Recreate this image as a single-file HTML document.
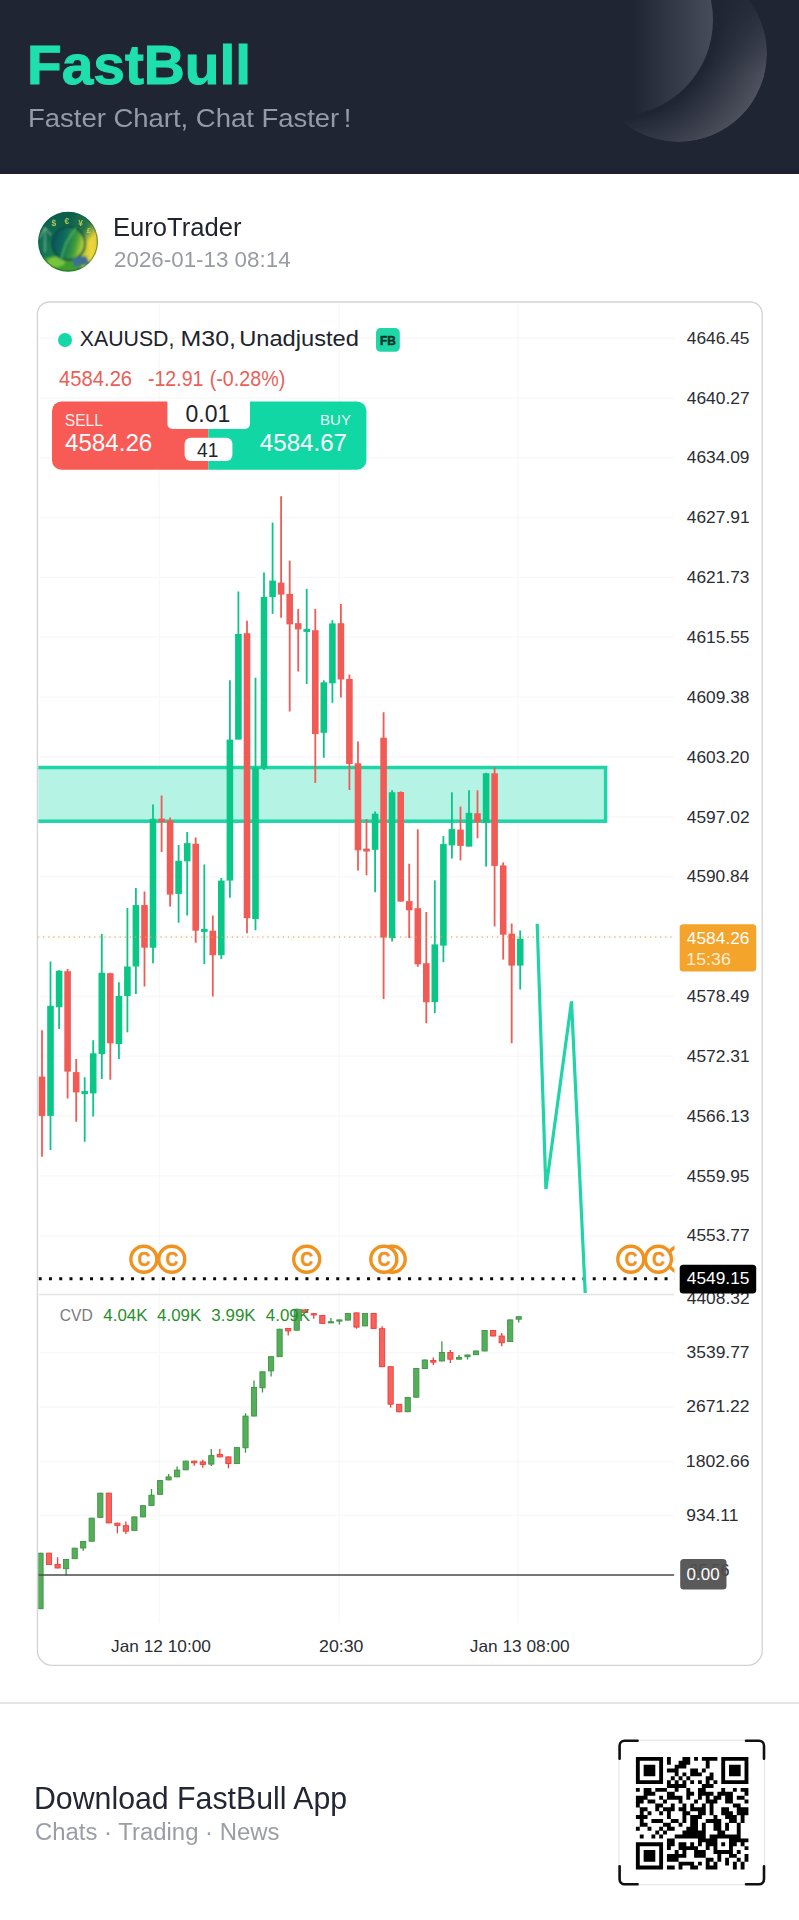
<!DOCTYPE html>
<html lang="en"><head><meta charset="utf-8"><title>FastBull - EuroTrader XAUUSD M30</title>
<style>
html,body{margin:0;padding:0;background:#fff}
body{width:799px;height:1920px;position:relative;overflow:hidden;font-family:"Liberation Sans",sans-serif}
.t{position:absolute;white-space:nowrap;line-height:1;transform-origin:0 50%;display:block}
.hdr{position:absolute;left:0;top:0;width:799px;height:174px;background:linear-gradient(to bottom,#202534 0,#202534 167px,#1c202e 172px,#1c202e 174px);overflow:hidden}
.c1,.c2{position:absolute;border-radius:50%}
.c2{left:590px;top:-35px;width:177px;height:177px;background:radial-gradient(circle at 27px 55px,rgba(255,255,255,0) 98px,rgba(255,255,255,.215) 160px);-webkit-mask-image:linear-gradient(to bottom,rgba(0,0,0,.2) 38px,#000 110px);mask-image:linear-gradient(to bottom,rgba(0,0,0,.2) 38px,#000 110px)}
.c1{left:521px;top:-76px;width:192px;height:192px;background:linear-gradient(90deg,#202534 58%,#474c5a 100%)}
.sep{position:absolute;left:0;top:1701.8px;width:799px;height:2px;background:#e6e6e6}
svg{position:absolute;left:0;top:0}
svg text{font-family:"Liberation Sans",sans-serif}
</style></head><body>

<div class="hdr"><div class="c2"></div><div class="c1"></div>
<span class="t " style="left:26.60px;top:37.11px;font-size:56.10px;color:#1fe0ac;font-weight:700;-webkit-text-stroke:1px #1fe0ac;transform:scaleX(1.0126)">FastBull</span>
<span class="t " style="left:27.75px;top:106.09px;font-size:25.29px;color:#969aa7;transform:scaleX(1.0859)">Faster Chart, Chat Faster !</span>
</div>
<span class="t " style="left:113.20px;top:213.98px;font-size:26.60px;color:#20242e;transform:scaleX(0.9621)">EuroTrader</span>
<span class="t " style="left:113.87px;top:249.03px;font-size:22.53px;color:#989ba2;transform:scaleX(0.9933)">2026-01-13 08:14</span>
<div class="sep"></div>
<span class="t " style="left:34.02px;top:1782.66px;font-size:30.52px;color:#222733;transform:scaleX(0.9923)">Download FastBull App</span>
<span class="t " style="left:34.79px;top:1821.26px;font-size:23.62px;color:#9a9da4;transform:scaleX(1.0127)">Chats · Trading · News</span>
<svg width="799" height="1920" viewBox="0 0 799 1920">
<defs><clipPath id="plot"><rect x="38.3" y="303" width="636.2" height="992"/></clipPath><clipPath id="cvdp"><rect x="38.3" y="1295" width="636.2" height="330"/></clipPath><clipPath id="card"><rect x="38.3" y="302.5" width="724.1" height="1363" rx="14"/></clipPath></defs>
<path d="M49.4 302H750.25a12 12 0 0 1 12 12V1650.4a15 15 0 0 1 -15 15H52.4a15 15 0 0 1 -15 -15V314a12 12 0 0 1 12 -12Z" fill="#fff" stroke="#d3d3d3" stroke-width="1.3"/>
<path d="M39 338.0H674M39 397.9H674M39 457.7H674M39 517.5H674M39 577.4H674M39 637.2H674M39 697.1H674M39 757.0H674M39 816.8H674M39 876.6H674M39 936.5H674M39 996.4H674M39 1056.2H674M39 1116.1H674M39 1175.9H674M39 1235.8H674M39 1352.6H674M39 1407.1H674M39 1461.5H674M39 1515.3H674M159.3 303.5V1623M339.2 303.5V1623M518.0 303.5V1623" stroke="#f8f8f9" stroke-width="1.3" fill="none"/>
<path d="M39 1294.5H674" stroke="#e4e4e6" stroke-width="1.4"/>
<g clip-path="url(#plot)">
<rect x="20" y="767.5" width="585.6" height="53.7" fill="#b5f3e4" stroke="#1fd4a7" stroke-width="3.5"/>
<path d="M42.0 1030.3V1156.7" stroke="#f15b56" stroke-width="1.8"/><rect x="38.7" y="1076.6" width="6.6" height="39.3" fill="#f15b56"/>
<path d="M50.5 961.5V1149.9" stroke="#0ac687" stroke-width="1.8"/><rect x="47.2" y="1005.8" width="6.6" height="110.1" fill="#0ac687"/>
<path d="M59.1 970.2V1029.0" stroke="#0ac687" stroke-width="1.8"/><rect x="55.8" y="970.7" width="6.6" height="36.6" fill="#0ac687"/>
<path d="M67.6 969.0V1098.4" stroke="#f15b56" stroke-width="1.8"/><rect x="64.3" y="971.2" width="6.6" height="100.4" fill="#f15b56"/>
<path d="M76.2 1059.1V1121.7" stroke="#f15b56" stroke-width="1.8"/><rect x="72.9" y="1072.1" width="6.6" height="20.3" fill="#f15b56"/>
<path d="M84.7 1077.3V1141.7" stroke="#0ac687" stroke-width="1.8"/><rect x="81.4" y="1091.1" width="6.6" height="3.0" fill="#0ac687"/>
<path d="M93.2 1040.3V1116.6" stroke="#0ac687" stroke-width="1.8"/><rect x="89.9" y="1053.3" width="6.6" height="40.1" fill="#0ac687"/>
<path d="M101.8 933.9V1079.1" stroke="#0ac687" stroke-width="1.8"/><rect x="98.5" y="972.7" width="6.6" height="81.4" fill="#0ac687"/>
<path d="M110.3 972.7V1079.8" stroke="#f15b56" stroke-width="1.8"/><rect x="107.0" y="973.2" width="6.6" height="70.1" fill="#f15b56"/>
<path d="M118.9 982.2V1059.1" stroke="#0ac687" stroke-width="1.8"/><rect x="115.6" y="996.0" width="6.6" height="48.1" fill="#0ac687"/>
<path d="M127.4 908.1V1032.3" stroke="#0ac687" stroke-width="1.8"/><rect x="124.1" y="966.5" width="6.6" height="29.5" fill="#0ac687"/>
<path d="M135.9 888.1V994.0" stroke="#0ac687" stroke-width="1.8"/><rect x="132.6" y="905.1" width="6.6" height="61.4" fill="#0ac687"/>
<path d="M144.5 891.4V986.5" stroke="#f15b56" stroke-width="1.8"/><rect x="141.2" y="905.1" width="6.6" height="42.6" fill="#f15b56"/>
<path d="M153.0 804.5V963.2" stroke="#0ac687" stroke-width="1.8"/><rect x="149.7" y="818.8" width="6.6" height="128.9" fill="#0ac687"/>
<path d="M161.6 795.4V852.1" stroke="#f15b56" stroke-width="1.8"/><rect x="158.3" y="818.6" width="6.6" height="3.6" fill="#f15b56"/>
<path d="M170.1 817.5V906.4" stroke="#f15b56" stroke-width="1.8"/><rect x="166.8" y="820.5" width="6.6" height="74.1" fill="#f15b56"/>
<path d="M178.6 845.1V922.7" stroke="#0ac687" stroke-width="1.8"/><rect x="175.3" y="860.8" width="6.6" height="33.1" fill="#0ac687"/>
<path d="M187.2 832.0V915.6" stroke="#0ac687" stroke-width="1.8"/><rect x="183.9" y="843.1" width="6.6" height="18.2" fill="#0ac687"/>
<path d="M195.7 837.5V942.7" stroke="#f15b56" stroke-width="1.8"/><rect x="192.4" y="843.8" width="6.6" height="86.9" fill="#f15b56"/>
<path d="M204.3 864.6V964.0" stroke="#0ac687" stroke-width="1.8"/><rect x="201.0" y="928.9" width="6.6" height="3.0" fill="#0ac687"/>
<path d="M212.8 915.6V996.5" stroke="#f15b56" stroke-width="1.8"/><rect x="209.5" y="930.7" width="6.6" height="24.5" fill="#f15b56"/>
<path d="M221.3 878.1V959.0" stroke="#0ac687" stroke-width="1.8"/><rect x="218.0" y="880.6" width="6.6" height="74.6" fill="#0ac687"/>
<path d="M229.9 680.3V897.7" stroke="#0ac687" stroke-width="1.8"/><rect x="226.6" y="739.6" width="6.6" height="141.0" fill="#0ac687"/>
<path d="M238.4 591.4V739.6" stroke="#0ac687" stroke-width="1.8"/><rect x="235.1" y="634.0" width="6.6" height="105.6" fill="#0ac687"/>
<path d="M247.0 620.7V933.2" stroke="#f15b56" stroke-width="1.8"/><rect x="243.7" y="633.2" width="6.6" height="285.0" fill="#f15b56"/>
<path d="M255.5 677.7V930.2" stroke="#0ac687" stroke-width="1.8"/><rect x="252.2" y="767.4" width="6.6" height="151.6" fill="#0ac687"/>
<path d="M264.0 572.6V770.0" stroke="#0ac687" stroke-width="1.8"/><rect x="260.7" y="596.9" width="6.6" height="171.0" fill="#0ac687"/>
<path d="M272.6 522.6V613.9" stroke="#0ac687" stroke-width="1.8"/><rect x="269.3" y="580.6" width="6.6" height="16.5" fill="#0ac687"/>
<path d="M281.1 496.3V617.7" stroke="#f15b56" stroke-width="1.8"/><rect x="277.8" y="582.6" width="6.6" height="12.0" fill="#f15b56"/>
<path d="M289.7 560.6V711.5" stroke="#f15b56" stroke-width="1.8"/><rect x="286.4" y="593.9" width="6.6" height="30.5" fill="#f15b56"/>
<path d="M298.2 608.9V671.5" stroke="#f15b56" stroke-width="1.8"/><rect x="294.9" y="623.2" width="6.6" height="6.2" fill="#f15b56"/>
<path d="M306.7 588.9V684.0" stroke="#0ac687" stroke-width="1.8"/><rect x="303.4" y="628.9" width="6.6" height="3.0" fill="#0ac687"/>
<path d="M315.3 608.9V782.9" stroke="#f15b56" stroke-width="1.8"/><rect x="312.0" y="630.2" width="6.6" height="103.9" fill="#f15b56"/>
<path d="M323.8 680.3V757.8" stroke="#0ac687" stroke-width="1.8"/><rect x="320.5" y="682.3" width="6.6" height="50.5" fill="#0ac687"/>
<path d="M332.4 620.2V702.8" stroke="#0ac687" stroke-width="1.8"/><rect x="329.1" y="623.4" width="6.6" height="59.9" fill="#0ac687"/>
<path d="M340.9 603.9V697.5" stroke="#f15b56" stroke-width="1.8"/><rect x="337.6" y="623.2" width="6.6" height="56.3" fill="#f15b56"/>
<path d="M349.4 674.5V790.0" stroke="#f15b56" stroke-width="1.8"/><rect x="346.1" y="679.0" width="6.6" height="85.0" fill="#f15b56"/>
<path d="M358.0 741.5V870.5" stroke="#f15b56" stroke-width="1.8"/><rect x="354.7" y="763.3" width="6.6" height="87.0" fill="#f15b56"/>
<path d="M366.5 819.0V875.3" stroke="#f15b56" stroke-width="1.8"/><rect x="363.2" y="848.6" width="6.6" height="2.9" fill="#f15b56"/>
<path d="M375.1 811.5V892.3" stroke="#0ac687" stroke-width="1.8"/><rect x="371.8" y="813.7" width="6.6" height="36.1" fill="#0ac687"/>
<path d="M383.6 712.2V999.0" stroke="#f15b56" stroke-width="1.8"/><rect x="380.3" y="737.7" width="6.6" height="199.9" fill="#f15b56"/>
<path d="M392.1 790.2V941.6" stroke="#0ac687" stroke-width="1.8"/><rect x="388.8" y="792.2" width="6.6" height="145.9" fill="#0ac687"/>
<path d="M400.7 791.4V901.6" stroke="#f15b56" stroke-width="1.8"/><rect x="397.4" y="792.0" width="6.6" height="109.6" fill="#f15b56"/>
<path d="M409.2 863.7V938.0" stroke="#f15b56" stroke-width="1.8"/><rect x="405.9" y="901.1" width="6.6" height="9.2" fill="#f15b56"/>
<path d="M417.8 829.3V966.8" stroke="#f15b56" stroke-width="1.8"/><rect x="414.5" y="908.2" width="6.6" height="56.1" fill="#f15b56"/>
<path d="M426.3 912.0V1023.2" stroke="#f15b56" stroke-width="1.8"/><rect x="423.0" y="963.2" width="6.6" height="39.0" fill="#f15b56"/>
<path d="M434.8 880.4V1013.1" stroke="#0ac687" stroke-width="1.8"/><rect x="431.5" y="944.4" width="6.6" height="57.7" fill="#0ac687"/>
<path d="M443.4 836.1V962.1" stroke="#0ac687" stroke-width="1.8"/><rect x="440.1" y="844.1" width="6.6" height="101.5" fill="#0ac687"/>
<path d="M451.9 792.3V858.4" stroke="#0ac687" stroke-width="1.8"/><rect x="448.6" y="829.1" width="6.6" height="16.3" fill="#0ac687"/>
<path d="M460.5 806.6V860.4" stroke="#f15b56" stroke-width="1.8"/><rect x="457.2" y="829.6" width="6.6" height="16.3" fill="#f15b56"/>
<path d="M469.0 790.3V846.6" stroke="#0ac687" stroke-width="1.8"/><rect x="465.7" y="812.8" width="6.6" height="33.8" fill="#0ac687"/>
<path d="M477.5 790.3V838.3" stroke="#f15b56" stroke-width="1.8"/><rect x="474.2" y="813.3" width="6.6" height="9.0" fill="#f15b56"/>
<path d="M486.1 772.8V866.6" stroke="#0ac687" stroke-width="1.8"/><rect x="482.8" y="773.3" width="6.6" height="49.5" fill="#0ac687"/>
<path d="M494.6 767.3V926.5" stroke="#f15b56" stroke-width="1.8"/><rect x="491.3" y="773.3" width="6.6" height="92.6" fill="#f15b56"/>
<path d="M503.2 862.4V959.6" stroke="#f15b56" stroke-width="1.8"/><rect x="499.9" y="865.4" width="6.6" height="69.3" fill="#f15b56"/>
<path d="M511.7 923.6V1043.2" stroke="#f15b56" stroke-width="1.8"/><rect x="508.4" y="933.7" width="6.6" height="31.9" fill="#f15b56"/>
<path d="M520.2 930.5V989.6" stroke="#0ac687" stroke-width="1.8"/><rect x="516.9" y="938.7" width="6.6" height="26.9" fill="#0ac687"/>
<path d="M38 937.1H675" stroke="#eda341" stroke-opacity=".92" stroke-width="1.25" stroke-dasharray="1.2 3.9"/>
<path d="M38.7 1278.8H675" stroke="#0a0a0a" stroke-width="3" stroke-dasharray="3 7.26"/>
<path d="M537.2 923.8L545.9 1189.1L571.5 1001.4L585.2 1293" stroke="#1fd4a7" stroke-width="3.2" fill="none" stroke-linejoin="miter"/>
<circle cx="143.85" cy="1259.2" r="13" fill="#fff" stroke="#ef9220" stroke-width="3.4"/><text x="137.75" y="1266.2" font-size="19.5" font-weight="700" fill="#ef9220" stroke="#ef9220" stroke-width=".5" textLength="12.6" lengthAdjust="spacingAndGlyphs">C</text>
<circle cx="171.75" cy="1259.2" r="13" fill="#fff" stroke="#ef9220" stroke-width="3.4"/><text x="165.65" y="1266.2" font-size="19.5" font-weight="700" fill="#ef9220" stroke="#ef9220" stroke-width=".5" textLength="12.6" lengthAdjust="spacingAndGlyphs">C</text>
<circle cx="306.7" cy="1259.2" r="13" fill="#fff" stroke="#ef9220" stroke-width="3.4"/><text x="300.60" y="1266.2" font-size="19.5" font-weight="700" fill="#ef9220" stroke="#ef9220" stroke-width=".5" textLength="12.6" lengthAdjust="spacingAndGlyphs">C</text>
<circle cx="392.2" cy="1259.2" r="13" fill="#fff" stroke="#ef9220" stroke-width="3.4"/><text x="386.10" y="1266.2" font-size="19.5" font-weight="700" fill="#ef9220" stroke="#ef9220" stroke-width=".5" textLength="12.6" lengthAdjust="spacingAndGlyphs">C</text>
<circle cx="383.8" cy="1259.2" r="13" fill="#fff" stroke="#ef9220" stroke-width="3.4"/><text x="377.70" y="1266.2" font-size="19.5" font-weight="700" fill="#ef9220" stroke="#ef9220" stroke-width=".5" textLength="12.6" lengthAdjust="spacingAndGlyphs">C</text>
<circle cx="630.8" cy="1259.2" r="13" fill="#fff" stroke="#ef9220" stroke-width="3.4"/><text x="624.70" y="1266.2" font-size="19.5" font-weight="700" fill="#ef9220" stroke="#ef9220" stroke-width=".5" textLength="12.6" lengthAdjust="spacingAndGlyphs">C</text>
<circle cx="680.4" cy="1259.2" r="13" fill="#fff" stroke="#ef9220" stroke-width="3.4"/><text x="674.30" y="1266.2" font-size="19.5" font-weight="700" fill="#ef9220" stroke="#ef9220" stroke-width=".5" textLength="12.6" lengthAdjust="spacingAndGlyphs">C</text>
<circle cx="658.4" cy="1259.2" r="13" fill="#fff" stroke="#ef9220" stroke-width="3.4"/><text x="652.30" y="1266.2" font-size="19.5" font-weight="700" fill="#ef9220" stroke="#ef9220" stroke-width=".5" textLength="12.6" lengthAdjust="spacingAndGlyphs">C</text>
</g>
<g clip-path="url(#cvdp)">
<path d="M40.5 1552.8V1609.1" stroke="#3f9444" stroke-width="1.3"/><rect x="37.9" y="1553.2" width="5.2" height="55.5" fill="#55ae5a" stroke="#3f9444" stroke-width=".9"/>
<path d="M49.0 1552.8V1564.8" stroke="#ee3e39" stroke-width="1.3"/><rect x="46.4" y="1553.2" width="5.2" height="11.2" fill="#f6635e" stroke="#ee3e39" stroke-width=".9"/>
<path d="M57.6 1557.3V1568.3" stroke="#ee3e39" stroke-width="1.3"/><rect x="55.0" y="1564.5" width="5.2" height="3.5" fill="#f6635e" stroke="#ee3e39" stroke-width=".9"/>
<path d="M66.1 1559.1V1575.4" stroke="#3f9444" stroke-width="1.3"/><rect x="63.5" y="1559.5" width="5.2" height="9.2" fill="#55ae5a" stroke="#3f9444" stroke-width=".9"/>
<path d="M74.7 1547.8V1559.1" stroke="#3f9444" stroke-width="1.3"/><rect x="72.1" y="1548.2" width="5.2" height="10.5" fill="#55ae5a" stroke="#3f9444" stroke-width=".9"/>
<path d="M83.2 1541.1V1550.8" stroke="#3f9444" stroke-width="1.3"/><rect x="80.6" y="1541.5" width="5.2" height="6.5" fill="#55ae5a" stroke="#3f9444" stroke-width=".9"/>
<path d="M91.7 1517.8V1541.6" stroke="#3f9444" stroke-width="1.3"/><rect x="89.1" y="1518.2" width="5.2" height="23.0" fill="#55ae5a" stroke="#3f9444" stroke-width=".9"/>
<path d="M100.3 1492.8V1517.8" stroke="#3f9444" stroke-width="1.3"/><rect x="97.7" y="1493.2" width="5.2" height="24.2" fill="#55ae5a" stroke="#3f9444" stroke-width=".9"/>
<path d="M108.8 1492.8V1523.3" stroke="#ee3e39" stroke-width="1.3"/><rect x="106.2" y="1493.2" width="5.2" height="29.7" fill="#f6635e" stroke="#ee3e39" stroke-width=".9"/>
<path d="M117.4 1522.8V1533.3" stroke="#ee3e39" stroke-width="1.3"/><rect x="114.8" y="1523.2" width="5.2" height="2.2" fill="#f6635e" stroke="#ee3e39" stroke-width=".9"/>
<path d="M125.9 1521.5V1534.1" stroke="#ee3e39" stroke-width="1.3"/><rect x="123.3" y="1525.7" width="5.2" height="5.5" fill="#f6635e" stroke="#ee3e39" stroke-width=".9"/>
<path d="M134.4 1516.5V1530.8" stroke="#3f9444" stroke-width="1.3"/><rect x="131.8" y="1516.9" width="5.2" height="13.5" fill="#55ae5a" stroke="#3f9444" stroke-width=".9"/>
<path d="M143.0 1505.3V1517.3" stroke="#3f9444" stroke-width="1.3"/><rect x="140.4" y="1505.7" width="5.2" height="11.2" fill="#55ae5a" stroke="#3f9444" stroke-width=".9"/>
<path d="M151.5 1489.0V1505.8" stroke="#3f9444" stroke-width="1.3"/><rect x="148.9" y="1495.2" width="5.2" height="10.2" fill="#55ae5a" stroke="#3f9444" stroke-width=".9"/>
<path d="M160.1 1480.2V1494.8" stroke="#3f9444" stroke-width="1.3"/><rect x="157.5" y="1480.6" width="5.2" height="13.7" fill="#55ae5a" stroke="#3f9444" stroke-width=".9"/>
<path d="M168.6 1474.0V1480.2" stroke="#3f9444" stroke-width="1.3"/><rect x="166.0" y="1476.9" width="5.2" height="3.0" fill="#55ae5a" stroke="#3f9444" stroke-width=".9"/>
<path d="M177.1 1466.5V1477.2" stroke="#3f9444" stroke-width="1.3"/><rect x="174.5" y="1470.1" width="5.2" height="6.7" fill="#55ae5a" stroke="#3f9444" stroke-width=".9"/>
<path d="M185.7 1460.7V1470.2" stroke="#3f9444" stroke-width="1.3"/><rect x="183.1" y="1461.1" width="5.2" height="8.7" fill="#55ae5a" stroke="#3f9444" stroke-width=".9"/>
<path d="M194.2 1460.7V1465.7" stroke="#ee3e39" stroke-width="1.3"/><rect x="191.6" y="1461.1" width="5.2" height="1.7" fill="#f6635e" stroke="#ee3e39" stroke-width=".9"/>
<path d="M202.8 1459.7V1467.7" stroke="#ee3e39" stroke-width="1.3"/><rect x="200.2" y="1461.9" width="5.2" height="2.5" fill="#f6635e" stroke="#ee3e39" stroke-width=".9"/>
<path d="M211.3 1448.9V1466.0" stroke="#3f9444" stroke-width="1.3"/><rect x="208.7" y="1455.6" width="5.2" height="8.5" fill="#55ae5a" stroke="#3f9444" stroke-width=".9"/>
<path d="M219.8 1448.9V1457.2" stroke="#ee3e39" stroke-width="1.3"/><rect x="217.2" y="1454.4" width="5.2" height="2.5" fill="#f6635e" stroke="#ee3e39" stroke-width=".9"/>
<path d="M228.4 1456.5V1468.2" stroke="#ee3e39" stroke-width="1.3"/><rect x="225.8" y="1456.9" width="5.2" height="6.7" fill="#f6635e" stroke="#ee3e39" stroke-width=".9"/>
<path d="M236.9 1447.2V1464.0" stroke="#3f9444" stroke-width="1.3"/><rect x="234.3" y="1447.6" width="5.2" height="16.0" fill="#55ae5a" stroke="#3f9444" stroke-width=".9"/>
<path d="M245.5 1413.2V1452.7" stroke="#3f9444" stroke-width="1.3"/><rect x="242.9" y="1416.1" width="5.2" height="31.7" fill="#55ae5a" stroke="#3f9444" stroke-width=".9"/>
<path d="M254.0 1380.6V1416.4" stroke="#3f9444" stroke-width="1.3"/><rect x="251.4" y="1387.5" width="5.2" height="28.5" fill="#55ae5a" stroke="#3f9444" stroke-width=".9"/>
<path d="M262.5 1371.4V1392.6" stroke="#3f9444" stroke-width="1.3"/><rect x="259.9" y="1371.8" width="5.2" height="16.0" fill="#55ae5a" stroke="#3f9444" stroke-width=".9"/>
<path d="M271.1 1356.3V1376.4" stroke="#3f9444" stroke-width="1.3"/><rect x="268.5" y="1356.7" width="5.2" height="14.2" fill="#55ae5a" stroke="#3f9444" stroke-width=".9"/>
<path d="M279.6 1328.8V1357.1" stroke="#3f9444" stroke-width="1.3"/><rect x="277.0" y="1329.2" width="5.2" height="27.5" fill="#55ae5a" stroke="#3f9444" stroke-width=".9"/>
<path d="M288.2 1328.0V1335.6" stroke="#ee3e39" stroke-width="1.3"/><rect x="285.6" y="1328.4" width="5.2" height="2.5" fill="#f6635e" stroke="#ee3e39" stroke-width=".9"/>
<path d="M296.7 1308.8V1330.6" stroke="#3f9444" stroke-width="1.3"/><rect x="294.1" y="1309.2" width="5.2" height="21.0" fill="#55ae5a" stroke="#3f9444" stroke-width=".9"/>
<path d="M305.2 1309.0V1313.0" stroke="#ee3e39" stroke-width="1.3"/><rect x="302.6" y="1309.9" width="5.2" height="2.7" fill="#f6635e" stroke="#ee3e39" stroke-width=".9"/>
<path d="M313.8 1313.3V1318.8" stroke="#ee3e39" stroke-width="1.3"/><rect x="311.2" y="1313.7" width="5.2" height="1.2" fill="#f6635e" stroke="#ee3e39" stroke-width=".9"/>
<path d="M322.3 1315.0V1323.8" stroke="#ee3e39" stroke-width="1.3"/><rect x="319.7" y="1315.4" width="5.2" height="8.0" fill="#f6635e" stroke="#ee3e39" stroke-width=".9"/>
<path d="M330.9 1318.0V1323.0" stroke="#3f9444" stroke-width="1.3"/><rect x="328.3" y="1321.7" width="5.2" height="1.2" fill="#55ae5a" stroke="#3f9444" stroke-width=".9"/>
<path d="M339.4 1319.5V1324.5" stroke="#3f9444" stroke-width="1.3"/><rect x="336.8" y="1319.9" width="5.2" height="1.2" fill="#55ae5a" stroke="#3f9444" stroke-width=".9"/>
<path d="M347.9 1313.0V1320.5" stroke="#3f9444" stroke-width="1.3"/><rect x="345.3" y="1313.4" width="5.2" height="6.7" fill="#55ae5a" stroke="#3f9444" stroke-width=".9"/>
<path d="M356.5 1312.5V1328.8" stroke="#ee3e39" stroke-width="1.3"/><rect x="353.9" y="1312.9" width="5.2" height="14.2" fill="#f6635e" stroke="#ee3e39" stroke-width=".9"/>
<path d="M365.0 1313.0V1326.3" stroke="#3f9444" stroke-width="1.3"/><rect x="362.4" y="1313.4" width="5.2" height="12.5" fill="#55ae5a" stroke="#3f9444" stroke-width=".9"/>
<path d="M373.6 1313.0V1328.8" stroke="#ee3e39" stroke-width="1.3"/><rect x="371.0" y="1313.4" width="5.2" height="15.0" fill="#f6635e" stroke="#ee3e39" stroke-width=".9"/>
<path d="M382.1 1326.3V1367.1" stroke="#ee3e39" stroke-width="1.3"/><rect x="379.5" y="1328.7" width="5.2" height="38.0" fill="#f6635e" stroke="#ee3e39" stroke-width=".9"/>
<path d="M390.6 1366.3V1407.6" stroke="#ee3e39" stroke-width="1.3"/><rect x="388.0" y="1366.7" width="5.2" height="37.5" fill="#f6635e" stroke="#ee3e39" stroke-width=".9"/>
<path d="M399.2 1403.9V1412.2" stroke="#ee3e39" stroke-width="1.3"/><rect x="396.6" y="1404.3" width="5.2" height="7.5" fill="#f6635e" stroke="#ee3e39" stroke-width=".9"/>
<path d="M407.7 1397.1V1412.2" stroke="#3f9444" stroke-width="1.3"/><rect x="405.1" y="1397.5" width="5.2" height="14.2" fill="#55ae5a" stroke="#3f9444" stroke-width=".9"/>
<path d="M416.3 1368.1V1397.6" stroke="#3f9444" stroke-width="1.3"/><rect x="413.7" y="1368.5" width="5.2" height="28.7" fill="#55ae5a" stroke="#3f9444" stroke-width=".9"/>
<path d="M424.8 1359.6V1368.8" stroke="#3f9444" stroke-width="1.3"/><rect x="422.2" y="1360.0" width="5.2" height="8.5" fill="#55ae5a" stroke="#3f9444" stroke-width=".9"/>
<path d="M433.3 1357.6V1365.1" stroke="#ee3e39" stroke-width="1.3"/><rect x="430.7" y="1360.5" width="5.2" height="1.7" fill="#f6635e" stroke="#ee3e39" stroke-width=".9"/>
<path d="M441.9 1341.3V1361.3" stroke="#3f9444" stroke-width="1.3"/><rect x="439.3" y="1352.5" width="5.2" height="8.5" fill="#55ae5a" stroke="#3f9444" stroke-width=".9"/>
<path d="M450.4 1350.1V1363.1" stroke="#ee3e39" stroke-width="1.3"/><rect x="447.8" y="1352.5" width="5.2" height="6.7" fill="#f6635e" stroke="#ee3e39" stroke-width=".9"/>
<path d="M459.0 1355.1V1359.6" stroke="#3f9444" stroke-width="1.3"/><rect x="456.4" y="1357.5" width="5.2" height="1.7" fill="#55ae5a" stroke="#3f9444" stroke-width=".9"/>
<path d="M467.5 1354.6V1359.6" stroke="#3f9444" stroke-width="1.3"/><rect x="464.9" y="1355.0" width="5.2" height="1.7" fill="#55ae5a" stroke="#3f9444" stroke-width=".9"/>
<path d="M476.0 1350.6V1355.1" stroke="#3f9444" stroke-width="1.3"/><rect x="473.4" y="1351.0" width="5.2" height="3.7" fill="#55ae5a" stroke="#3f9444" stroke-width=".9"/>
<path d="M484.6 1330.1V1351.3" stroke="#3f9444" stroke-width="1.3"/><rect x="482.0" y="1330.5" width="5.2" height="20.5" fill="#55ae5a" stroke="#3f9444" stroke-width=".9"/>
<path d="M493.1 1330.1V1336.3" stroke="#ee3e39" stroke-width="1.3"/><rect x="490.5" y="1330.5" width="5.2" height="5.5" fill="#f6635e" stroke="#ee3e39" stroke-width=".9"/>
<path d="M501.7 1333.1V1346.3" stroke="#ee3e39" stroke-width="1.3"/><rect x="499.1" y="1336.0" width="5.2" height="6.7" fill="#f6635e" stroke="#ee3e39" stroke-width=".9"/>
<path d="M510.2 1319.5V1342.1" stroke="#3f9444" stroke-width="1.3"/><rect x="507.6" y="1319.9" width="5.2" height="21.7" fill="#55ae5a" stroke="#3f9444" stroke-width=".9"/>
<path d="M518.7 1316.3V1322.5" stroke="#3f9444" stroke-width="1.3"/><rect x="516.1" y="1316.7" width="5.2" height="2.5" fill="#55ae5a" stroke="#3f9444" stroke-width=".9"/>
<path d="M38.5 1575H674.3" stroke="#4a4a4a" stroke-width="1.5"/>
</g>
<text x="686.80" y="343.70" font-size="17.01" fill="#2b2d33" textLength="62.63" lengthAdjust="spacingAndGlyphs">4646.45</text>
<text x="686.80" y="403.55" font-size="17.01" fill="#2b2d33" textLength="62.77" lengthAdjust="spacingAndGlyphs">4640.27</text>
<text x="686.80" y="463.40" font-size="17.01" fill="#2b2d33" textLength="62.72" lengthAdjust="spacingAndGlyphs">4634.09</text>
<text x="686.80" y="523.25" font-size="17.01" fill="#2b2d33" textLength="62.75" lengthAdjust="spacingAndGlyphs">4627.91</text>
<text x="686.80" y="583.10" font-size="17.01" fill="#2b2d33" textLength="62.66" lengthAdjust="spacingAndGlyphs">4621.73</text>
<text x="686.80" y="642.95" font-size="17.01" fill="#2b2d33" textLength="62.63" lengthAdjust="spacingAndGlyphs">4615.55</text>
<text x="686.80" y="702.80" font-size="17.01" fill="#2b2d33" textLength="62.65" lengthAdjust="spacingAndGlyphs">4609.38</text>
<text x="686.80" y="762.65" font-size="17.01" fill="#2b2d33" textLength="62.57" lengthAdjust="spacingAndGlyphs">4603.20</text>
<text x="686.80" y="822.50" font-size="17.01" fill="#2b2d33" textLength="62.77" lengthAdjust="spacingAndGlyphs">4597.02</text>
<text x="686.80" y="882.35" font-size="17.01" fill="#2b2d33" textLength="62.40" lengthAdjust="spacingAndGlyphs">4590.84</text>
<text x="686.80" y="1002.05" font-size="17.01" fill="#2b2d33" textLength="62.72" lengthAdjust="spacingAndGlyphs">4578.49</text>
<text x="686.80" y="1061.90" font-size="17.01" fill="#2b2d33" textLength="62.75" lengthAdjust="spacingAndGlyphs">4572.31</text>
<text x="686.80" y="1121.75" font-size="17.01" fill="#2b2d33" textLength="62.66" lengthAdjust="spacingAndGlyphs">4566.13</text>
<text x="686.80" y="1181.60" font-size="17.01" fill="#2b2d33" textLength="62.63" lengthAdjust="spacingAndGlyphs">4559.95</text>
<text x="686.80" y="1241.45" font-size="17.01" fill="#2b2d33" textLength="62.77" lengthAdjust="spacingAndGlyphs">4553.77</text>
<text x="686.80" y="1304.20" font-size="17.01" fill="#2b2d33" textLength="62.77" lengthAdjust="spacingAndGlyphs">4408.32</text>
<text x="686.54" y="1358.00" font-size="17.01" fill="#2b2d33" textLength="63.04" lengthAdjust="spacingAndGlyphs">3539.77</text>
<text x="686.32" y="1412.30" font-size="17.01" fill="#2b2d33" textLength="63.26" lengthAdjust="spacingAndGlyphs">2671.22</text>
<text x="685.86" y="1467.10" font-size="17.01" fill="#2b2d33" textLength="63.61" lengthAdjust="spacingAndGlyphs">1802.66</text>
<text x="686.38" y="1521.20" font-size="17.01" fill="#2b2d33" textLength="52.07" lengthAdjust="spacingAndGlyphs">934.11</text>
<text x="689.18" y="1576.00" font-size="17.01" fill="#2b2d33" textLength="40.33" lengthAdjust="spacingAndGlyphs">65.56</text>
<rect x="679.7" y="924.3" width="76.5" height="47.1" rx="3.5" fill="#f4a42a"/>
<text x="686.80" y="944.10" font-size="17.01" fill="#fff" textLength="62.66" lengthAdjust="spacingAndGlyphs">4584.26</text>
<text x="686.35" y="964.80" font-size="17.01" fill="#fff" fill-opacity="0.82" textLength="44.43" lengthAdjust="spacingAndGlyphs">15:36</text>
<rect x="679.7" y="1264.8" width="76.5" height="28.7" rx="3.5" fill="#000"/>
<text x="686.80" y="1284.40" font-size="17.01" fill="#fff" textLength="62.63" lengthAdjust="spacingAndGlyphs">4549.15</text>
<rect x="680.2" y="1559" width="46.3" height="30.6" rx="3.5" fill="#4d4d4d" fill-opacity=".93"/>
<text x="686.54" y="1579.70" font-size="17.01" fill="#fff" textLength="33.13" lengthAdjust="spacingAndGlyphs">0.00</text>
<defs><clipPath id="avc"><circle cx="68.1" cy="241.7" r="30"/></clipPath><linearGradient id="avb" x1="0" y1="0" x2="1" y2="0"><stop offset="0" stop-color="#0f6e58"/><stop offset=".5" stop-color="#1c8650"/><stop offset=".7" stop-color="#a9c032"/><stop offset=".86" stop-color="#f0d83a"/><stop offset="1" stop-color="#d9c236"/></linearGradient><linearGradient id="avg" x1="0" y1="0" x2="1" y2="0.25"><stop offset="0" stop-color="#0b4a63"/><stop offset=".45" stop-color="#10705a"/><stop offset=".8" stop-color="#3f9e38"/><stop offset="1" stop-color="#a8c83a"/></linearGradient><radialGradient id="avt" cx=".45" cy="0" r=".62"><stop offset="0" stop-color="#0a5a4c"/><stop offset=".7" stop-color="#0d6650" stop-opacity=".85"/><stop offset="1" stop-color="#0d6650" stop-opacity="0"/></radialGradient><filter id="avf" x="-10%" y="-10%" width="120%" height="120%"><feGaussianBlur stdDeviation="1.3"/></filter></defs>
<g clip-path="url(#avc)"><g filter="url(#avf)"><rect x="36" y="210" width="64" height="64" fill="url(#avb)"/><rect x="36" y="210" width="64" height="64" fill="url(#avt)"/><ellipse cx="58" cy="270" rx="24" ry="14" fill="#3f9d2e"/><ellipse cx="56" cy="262" rx="9" ry="5" fill="#79c43c"/><circle cx="68.7" cy="243.6" r="17.5" fill="#0b4d40"/><circle cx="68.7" cy="243.6" r="15.5" fill="url(#avg)"/><path d="M60 262L66 243L76 228" stroke="#5fbf6a" stroke-width="1.4" fill="none" opacity=".8"/><path d="M72 258L86 256L90 264L74 267Z" fill="#3d6f8f"/><path d="M45 228V252M45 228L39 238M45 228L51 235" stroke="#9fd8b0" stroke-width="1" fill="none" opacity=".8"/></g><circle cx="68.1" cy="241.7" r="29.3" fill="none" stroke="#0b5a3e" stroke-width="1.4" opacity=".45"/><g font-size="8.5" font-weight="700" fill="#d3e05a" text-anchor="middle" opacity=".8"><text x="53.8" y="226.2">$</text><text x="66.9" y="224.4">€</text><text x="80.6" y="225.6">¥</text><text x="88.8" y="232.5" font-size="7.5">£</text></g></g>
<circle cx="65" cy="340" r="7" fill="#14d8a8"/>
<text x="79.82" y="346.40" font-size="22.38" fill="#20232b" textLength="94.59" lengthAdjust="spacingAndGlyphs">XAUUSD,</text>
<text x="180.56" y="346.40" font-size="22.38" fill="#20232b" textLength="55.38" lengthAdjust="spacingAndGlyphs">M30,</text>
<text x="239.17" y="346.40" font-size="22.38" fill="#20232b" textLength="119.75" lengthAdjust="spacingAndGlyphs">Unadjusted</text>
<rect x="376" y="328.1" width="23.8" height="23.6" rx="4.5" fill="#1fd6a6"/>
<text x="380.11" y="345.00" font-size="12.21" fill="#0a2f28" font-weight="700" textLength="15.83" lengthAdjust="spacingAndGlyphs" stroke="#0a2f28" stroke-width=".45">FB</text>
<text x="59.04" y="385.50" font-size="21.66" fill="#ea5f59" textLength="73.10" lengthAdjust="spacingAndGlyphs">4584.26</text>
<text x="147.88" y="385.50" font-size="21.66" fill="#ea5f59" textLength="55.58" lengthAdjust="spacingAndGlyphs">-12.91</text>
<text x="209.78" y="385.50" font-size="21.66" fill="#ea5f59" textLength="75.44" lengthAdjust="spacingAndGlyphs">(-0.28%)</text>
<clipPath id="w"><rect x="52" y="401.5" width="314.4" height="68.3" rx="9.5"/></clipPath>
<g clip-path="url(#w)"><rect x="52" y="401" width="156.3" height="70" fill="#f85a55"/><rect x="208.3" y="401" width="159" height="70" fill="#10d7a4"/></g>
<path d="M167.4 400.8H250V424a5 5 0 0 1 -5 5H172.4a5 5 0 0 1 -5 -5Z" fill="#fff"/>
<rect x="184.6" y="437.7" width="47.8" height="23.2" rx="6" fill="#fff"/>
<text x="64.79" y="425.50" font-size="15.99" fill="#fff" fill-opacity="0.92" textLength="38.23" lengthAdjust="spacingAndGlyphs">SELL</text>
<text x="64.95" y="451.00" font-size="23.62" fill="#fff" textLength="87.37" lengthAdjust="spacingAndGlyphs">4584.26</text>
<text x="320.06" y="425.30" font-size="15.12" fill="#fff" fill-opacity="0.92" textLength="30.97" lengthAdjust="spacingAndGlyphs">BUY</text>
<text x="259.85" y="451.25" font-size="23.98" fill="#fff" textLength="87.17" lengthAdjust="spacingAndGlyphs">4584.67</text>
<text x="185.60" y="422.00" font-size="23.98" fill="#20232b" textLength="44.72" lengthAdjust="spacingAndGlyphs">0.01</text>
<text x="197.06" y="456.60" font-size="20.35" fill="#20232b" textLength="21.38" lengthAdjust="spacingAndGlyphs">41</text>
<text x="59.71" y="1321.00" font-size="16.35" fill="#7a7a7a" textLength="33.04" lengthAdjust="spacingAndGlyphs">CVD</text>
<text x="103.36" y="1321.00" font-size="16.35" fill="#288f2c" textLength="44.08" lengthAdjust="spacingAndGlyphs">4.04K</text>
<text x="157.11" y="1321.00" font-size="16.35" fill="#288f2c" textLength="44.08" lengthAdjust="spacingAndGlyphs">4.09K</text>
<text x="211.35" y="1321.00" font-size="16.35" fill="#288f2c" textLength="44.34" lengthAdjust="spacingAndGlyphs">3.99K</text>
<text x="265.86" y="1321.00" font-size="16.35" fill="#288f2c" textLength="44.08" lengthAdjust="spacingAndGlyphs">4.09K</text>
<text x="111.13" y="1652.30" font-size="16.28" fill="#2b2d33" textLength="99.74" lengthAdjust="spacingAndGlyphs">Jan 12 10:00</text>
<text x="319.11" y="1652.30" font-size="16.28" fill="#2b2d33" textLength="44.28" lengthAdjust="spacingAndGlyphs">20:30</text>
<text x="469.83" y="1652.30" font-size="16.28" fill="#2b2d33" textLength="99.84" lengthAdjust="spacingAndGlyphs">Jan 13 08:00</text>
<rect x="619" y="1740.2" width="145.6" height="144.6" rx="5" fill="#fff" stroke="#e3e3e3" stroke-width="1"/>
<path d="M619.6 1758.8V1745.8a5 5 0 0 1 5 -5H637.6M746.0 1740.8H759.0a5 5 0 0 1 5 5V1758.8M764.0 1866.2V1879.2a5 5 0 0 1 -5 5H746.0M637.6 1884.2H624.6a5 5 0 0 1 -5 -5V1866.2" stroke="#111" stroke-width="2.6" fill="none" stroke-linecap="round"/>
<path d="M635.90 1756.90h27.16v3.93h-27.16zM666.94 1756.90h3.88v3.93h-3.88zM682.46 1756.90h7.76v3.93h-7.76zM694.10 1756.90h3.88v3.93h-3.88zM701.86 1756.90h15.52v3.93h-15.52zM721.26 1756.90h27.16v3.93h-27.16zM635.90 1760.78h3.88v3.93h-3.88zM659.18 1760.78h3.88v3.93h-3.88zM666.94 1760.78h3.88v3.93h-3.88zM678.58 1760.78h11.64v3.93h-11.64zM705.74 1760.78h3.88v3.93h-3.88zM721.26 1760.78h3.88v3.93h-3.88zM744.54 1760.78h3.88v3.93h-3.88zM635.90 1764.66h3.88v3.93h-3.88zM643.66 1764.66h11.64v3.93h-11.64zM659.18 1764.66h3.88v3.93h-3.88zM674.70 1764.66h11.64v3.93h-11.64zM705.74 1764.66h3.88v3.93h-3.88zM721.26 1764.66h3.88v3.93h-3.88zM729.02 1764.66h11.64v3.93h-11.64zM744.54 1764.66h3.88v3.93h-3.88zM635.90 1768.54h3.88v3.93h-3.88zM643.66 1768.54h11.64v3.93h-11.64zM659.18 1768.54h3.88v3.93h-3.88zM666.94 1768.54h11.64v3.93h-11.64zM690.22 1768.54h7.76v3.93h-7.76zM701.86 1768.54h3.88v3.93h-3.88zM721.26 1768.54h3.88v3.93h-3.88zM729.02 1768.54h11.64v3.93h-11.64zM744.54 1768.54h3.88v3.93h-3.88zM635.90 1772.42h3.88v3.93h-3.88zM643.66 1772.42h11.64v3.93h-11.64zM659.18 1772.42h3.88v3.93h-3.88zM674.70 1772.42h3.88v3.93h-3.88zM682.46 1772.42h3.88v3.93h-3.88zM690.22 1772.42h11.64v3.93h-11.64zM709.62 1772.42h3.88v3.93h-3.88zM721.26 1772.42h3.88v3.93h-3.88zM729.02 1772.42h11.64v3.93h-11.64zM744.54 1772.42h3.88v3.93h-3.88zM635.90 1776.30h3.88v3.93h-3.88zM659.18 1776.30h3.88v3.93h-3.88zM670.82 1776.30h3.88v3.93h-3.88zM678.58 1776.30h3.88v3.93h-3.88zM686.34 1776.30h3.88v3.93h-3.88zM705.74 1776.30h7.76v3.93h-7.76zM721.26 1776.30h3.88v3.93h-3.88zM744.54 1776.30h3.88v3.93h-3.88zM635.90 1780.18h27.16v3.93h-27.16zM666.94 1780.18h3.88v3.93h-3.88zM674.70 1780.18h3.88v3.93h-3.88zM682.46 1780.18h3.88v3.93h-3.88zM690.22 1780.18h3.88v3.93h-3.88zM697.98 1780.18h3.88v3.93h-3.88zM705.74 1780.18h3.88v3.93h-3.88zM713.50 1780.18h3.88v3.93h-3.88zM721.26 1780.18h27.16v3.93h-27.16zM666.94 1784.06h19.40v3.93h-19.40zM701.86 1784.06h11.64v3.93h-11.64zM635.90 1787.94h3.88v3.93h-3.88zM643.66 1787.94h7.76v3.93h-7.76zM655.30 1787.94h11.64v3.93h-11.64zM674.70 1787.94h3.88v3.93h-3.88zM686.34 1787.94h3.88v3.93h-3.88zM697.98 1787.94h7.76v3.93h-7.76zM721.26 1787.94h3.88v3.93h-3.88zM732.90 1787.94h3.88v3.93h-3.88zM740.66 1787.94h7.76v3.93h-7.76zM643.66 1791.82h11.64v3.93h-11.64zM666.94 1791.82h7.76v3.93h-7.76zM686.34 1791.82h7.76v3.93h-7.76zM697.98 1791.82h15.52v3.93h-15.52zM717.38 1791.82h15.52v3.93h-15.52zM744.54 1791.82h3.88v3.93h-3.88zM635.90 1795.70h11.64v3.93h-11.64zM659.18 1795.70h3.88v3.93h-3.88zM666.94 1795.70h15.52v3.93h-15.52zM686.34 1795.70h3.88v3.93h-3.88zM697.98 1795.70h3.88v3.93h-3.88zM705.74 1795.70h3.88v3.93h-3.88zM713.50 1795.70h7.76v3.93h-7.76zM725.14 1795.70h7.76v3.93h-7.76zM736.78 1795.70h7.76v3.93h-7.76zM635.90 1799.58h7.76v3.93h-7.76zM647.54 1799.58h7.76v3.93h-7.76zM663.06 1799.58h3.88v3.93h-3.88zM678.58 1799.58h3.88v3.93h-3.88zM694.10 1799.58h3.88v3.93h-3.88zM705.74 1799.58h11.64v3.93h-11.64zM725.14 1799.58h7.76v3.93h-7.76zM744.54 1799.58h3.88v3.93h-3.88zM635.90 1803.46h3.88v3.93h-3.88zM655.30 1803.46h7.76v3.93h-7.76zM670.82 1803.46h3.88v3.93h-3.88zM682.46 1803.46h3.88v3.93h-3.88zM690.22 1803.46h3.88v3.93h-3.88zM701.86 1803.46h3.88v3.93h-3.88zM709.62 1803.46h3.88v3.93h-3.88zM732.90 1803.46h7.76v3.93h-7.76zM639.78 1807.34h7.76v3.93h-7.76zM655.30 1807.34h3.88v3.93h-3.88zM663.06 1807.34h11.64v3.93h-11.64zM678.58 1807.34h7.76v3.93h-7.76zM690.22 1807.34h15.52v3.93h-15.52zM709.62 1807.34h3.88v3.93h-3.88zM721.26 1807.34h7.76v3.93h-7.76zM736.78 1807.34h11.64v3.93h-11.64zM639.78 1811.22h3.88v3.93h-3.88zM647.54 1811.22h3.88v3.93h-3.88zM659.18 1811.22h3.88v3.93h-3.88zM666.94 1811.22h3.88v3.93h-3.88zM682.46 1811.22h7.76v3.93h-7.76zM697.98 1811.22h7.76v3.93h-7.76zM709.62 1811.22h3.88v3.93h-3.88zM721.26 1811.22h11.64v3.93h-11.64zM736.78 1811.22h11.64v3.93h-11.64zM635.90 1815.10h11.64v3.93h-11.64zM666.94 1815.10h3.88v3.93h-3.88zM682.46 1815.10h3.88v3.93h-3.88zM690.22 1815.10h11.64v3.93h-11.64zM713.50 1815.10h3.88v3.93h-3.88zM725.14 1815.10h11.64v3.93h-11.64zM740.66 1815.10h3.88v3.93h-3.88zM639.78 1818.98h3.88v3.93h-3.88zM651.42 1818.98h11.64v3.93h-11.64zM670.82 1818.98h7.76v3.93h-7.76zM682.46 1818.98h3.88v3.93h-3.88zM690.22 1818.98h7.76v3.93h-7.76zM705.74 1818.98h15.52v3.93h-15.52zM729.02 1818.98h7.76v3.93h-7.76zM740.66 1818.98h3.88v3.93h-3.88zM639.78 1822.86h7.76v3.93h-7.76zM663.06 1822.86h7.76v3.93h-7.76zM678.58 1822.86h3.88v3.93h-3.88zM690.22 1822.86h7.76v3.93h-7.76zM701.86 1822.86h3.88v3.93h-3.88zM713.50 1822.86h7.76v3.93h-7.76zM725.14 1822.86h3.88v3.93h-3.88zM736.78 1822.86h3.88v3.93h-3.88zM635.90 1826.74h3.88v3.93h-3.88zM647.54 1826.74h3.88v3.93h-3.88zM659.18 1826.74h3.88v3.93h-3.88zM666.94 1826.74h7.76v3.93h-7.76zM686.34 1826.74h11.64v3.93h-11.64zM701.86 1826.74h3.88v3.93h-3.88zM713.50 1826.74h7.76v3.93h-7.76zM725.14 1826.74h3.88v3.93h-3.88zM736.78 1826.74h3.88v3.93h-3.88zM655.30 1830.62h3.88v3.93h-3.88zM663.06 1830.62h3.88v3.93h-3.88zM682.46 1830.62h23.28v3.93h-23.28zM717.38 1830.62h7.76v3.93h-7.76zM736.78 1830.62h3.88v3.93h-3.88zM639.78 1834.50h3.88v3.93h-3.88zM651.42 1834.50h3.88v3.93h-3.88zM659.18 1834.50h3.88v3.93h-3.88zM674.70 1834.50h31.04v3.93h-31.04zM709.62 1834.50h31.04v3.93h-31.04zM666.94 1838.38h7.76v3.93h-7.76zM697.98 1838.38h19.40v3.93h-19.40zM729.02 1838.38h19.40v3.93h-19.40zM635.90 1842.26h27.16v3.93h-27.16zM666.94 1842.26h7.76v3.93h-7.76zM678.58 1842.26h7.76v3.93h-7.76zM690.22 1842.26h3.88v3.93h-3.88zM697.98 1842.26h3.88v3.93h-3.88zM705.74 1842.26h11.64v3.93h-11.64zM721.26 1842.26h3.88v3.93h-3.88zM729.02 1842.26h7.76v3.93h-7.76zM740.66 1842.26h3.88v3.93h-3.88zM635.90 1846.14h3.88v3.93h-3.88zM659.18 1846.14h3.88v3.93h-3.88zM666.94 1846.14h3.88v3.93h-3.88zM678.58 1846.14h19.40v3.93h-19.40zM705.74 1846.14h3.88v3.93h-3.88zM713.50 1846.14h3.88v3.93h-3.88zM729.02 1846.14h3.88v3.93h-3.88zM744.54 1846.14h3.88v3.93h-3.88zM635.90 1850.02h3.88v3.93h-3.88zM643.66 1850.02h11.64v3.93h-11.64zM659.18 1850.02h3.88v3.93h-3.88zM674.70 1850.02h3.88v3.93h-3.88zM682.46 1850.02h3.88v3.93h-3.88zM694.10 1850.02h11.64v3.93h-11.64zM713.50 1850.02h19.40v3.93h-19.40zM736.78 1850.02h3.88v3.93h-3.88zM635.90 1853.90h3.88v3.93h-3.88zM643.66 1853.90h11.64v3.93h-11.64zM659.18 1853.90h3.88v3.93h-3.88zM666.94 1853.90h19.40v3.93h-19.40zM694.10 1853.90h11.64v3.93h-11.64zM717.38 1853.90h3.88v3.93h-3.88zM729.02 1853.90h7.76v3.93h-7.76zM744.54 1853.90h3.88v3.93h-3.88zM635.90 1857.78h3.88v3.93h-3.88zM643.66 1857.78h11.64v3.93h-11.64zM659.18 1857.78h3.88v3.93h-3.88zM666.94 1857.78h11.64v3.93h-11.64zM705.74 1857.78h7.76v3.93h-7.76zM717.38 1857.78h3.88v3.93h-3.88zM725.14 1857.78h3.88v3.93h-3.88zM736.78 1857.78h3.88v3.93h-3.88zM744.54 1857.78h3.88v3.93h-3.88zM635.90 1861.66h3.88v3.93h-3.88zM659.18 1861.66h3.88v3.93h-3.88zM678.58 1861.66h15.52v3.93h-15.52zM697.98 1861.66h3.88v3.93h-3.88zM705.74 1861.66h3.88v3.93h-3.88zM713.50 1861.66h3.88v3.93h-3.88zM725.14 1861.66h3.88v3.93h-3.88zM732.90 1861.66h3.88v3.93h-3.88zM740.66 1861.66h3.88v3.93h-3.88zM635.90 1865.54h27.16v3.93h-27.16zM666.94 1865.54h7.76v3.93h-7.76zM678.58 1865.54h3.88v3.93h-3.88zM690.22 1865.54h7.76v3.93h-7.76zM705.74 1865.54h11.64v3.93h-11.64zM732.90 1865.54h3.88v3.93h-3.88zM740.66 1865.54h3.88v3.93h-3.88z" fill="#000"/>
</svg>
</body></html>
